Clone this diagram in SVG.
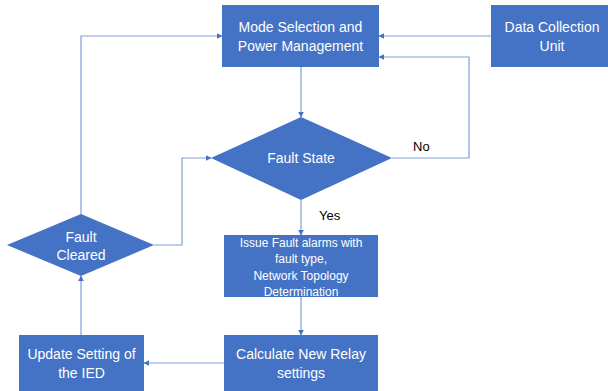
<svg xmlns="http://www.w3.org/2000/svg" width="608" height="391" viewBox="0 0 608 391">
<style>
.box{fill:#4472C4;}
.t{font-family:"Liberation Sans",Arial,sans-serif;fill:#ffffff;text-anchor:middle;}
.l{font-family:"Liberation Sans",Arial,sans-serif;fill:#000000;font-size:13px;}
.c{fill:none;stroke:#7F9ED8;stroke-width:1.2;marker-end:url(#ah);}
</style>
<defs>
<marker id="ah" viewBox="0 0 10 10" refX="9" refY="5" markerWidth="6" markerHeight="6" markerUnits="userSpaceOnUse" orient="auto">
<path d="M0,0 L10,5 L0,10 z" fill="#4472C4"/>
</marker>
</defs>
<rect width="608" height="391" fill="#ffffff"/>
<g id="connectors">
<path class="c" d="M301,67 V117"/>
<path class="c" d="M491,36 H379"/>
<path class="c" d="M392,158 H469 V57 H379"/>
<path class="c" d="M301,200 V235"/>
<path class="c" d="M301,297 V335"/>
<path class="c" d="M225,363 H144"/>
<path class="c" d="M81,335 V276"/>
<path class="c" d="M154,245 H182 V158 H211"/>
<path class="c" d="M81,214 V36 H222"/>
</g>
<g id="mode">
<rect class="box" x="222" y="5" width="157" height="62"/>
<text class="t" font-size="14" x="300.5" y="32">Mode Selection and</text>
<text class="t" font-size="14" x="300.5" y="51">Power Management</text>
</g>
<g id="data">
<rect class="box" x="491" y="5" width="117" height="62"/>
<text class="t" font-size="14" x="552" y="32">Data Collection</text>
<text class="t" font-size="14" x="552" y="51">Unit</text>
</g>
<g id="faultstate">
<polygon class="box" points="301,117 392,158 301,200 211,158"/>
<text class="t" font-size="14" x="301" y="163">Fault State</text>
</g>
<g id="faultcleared">
<polygon class="box" points="81,214 154,245 81,276 7,245"/>
<text class="t" font-size="14" x="81" y="242">Fault</text>
<text class="t" font-size="14" x="81" y="260">Cleared</text>
</g>
<g id="issue">
<rect class="box" x="224" y="235" width="154" height="62"/>
<text class="t" font-size="12" x="301" y="247">Issue Fault alarms with</text>
<text class="t" font-size="12" x="301" y="263">fault type,</text>
<text class="t" font-size="12" x="301" y="280">Network Topology</text>
<text class="t" font-size="12" x="301" y="296">Determination</text>
</g>
<g id="calculate">
<rect class="box" x="224" y="335" width="154" height="56"/>
<text class="t" font-size="14" x="301" y="359">Calculate New Relay</text>
<text class="t" font-size="14" x="301" y="378">settings</text>
</g>
<g id="update">
<rect class="box" x="19" y="335" width="125" height="56"/>
<text class="t" font-size="14" x="81.5" y="359">Update Setting of</text>
<text class="t" font-size="14" x="81.5" y="378">the IED</text>
</g>
<g id="labels">
<text class="l" x="413" y="151">No</text>
<text class="l" x="319" y="220">Yes</text>
</g>
</svg>
